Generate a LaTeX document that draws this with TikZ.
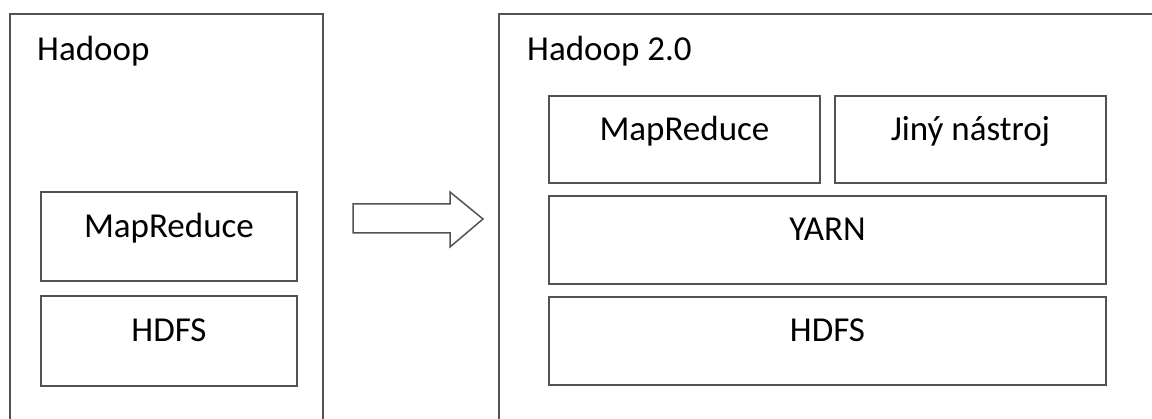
\documentclass[tikz,border=0pt]{standalone}
\usepackage{fontspec}
\setmainfont{Carlito}
\begin{document}
\begin{tikzpicture}[x=1pt,y=-1pt,
  box/.style={draw=black!68, line width=1.9pt, rectangle, inner sep=0pt, anchor=north west},
  lbl/.style={font=\fontsize{35}{42}\selectfont, anchor=base, inner sep=0pt},
  frame/.style={draw=black!68, line width=1.9pt},
  blockarrow/.style={draw=black!68, line width=1.5pt, fill=white, line join=miter}]
\useasboundingbox (0,0) rectangle (1152,419);
\clip (0,0) rectangle (1152,419);
% outer frames
\draw[frame] (10,440) -- (10,14) -- (323,14) -- (323,440);
\draw[frame] (499,440) -- (499,14) -- (1170,14);
\node[lbl, anchor=base west] (t1) at (37,61) {Hadoop};
\node[lbl, anchor=base west] (t2) at (527,61) {Hadoop 2.0};
% left stack
\node[box, minimum width=256pt, minimum height=89pt] (mr1) at (40,191) {};
\node[lbl] (mr1t) at ([yshift=-47pt]mr1.north) {MapReduce};
\node[box, minimum width=256pt, minimum height=90pt] (hd1) at (40,295) {};
\node[lbl] (hd1t) at ([yshift=-47pt]hd1.north) {HDFS};
% arrow
\draw[blockarrow] (353,204) -- (450,204) -- (450,192) -- (483,219) -- (450,247) -- (450,233) -- (353,233) -- cycle;
% right stack
\node[box, minimum width=271pt, minimum height=87pt] (mr2) at (548,95) {};
\node[lbl] (mr2t) at ([yshift=-46pt]mr2.north) {MapReduce};
\node[box, minimum width=271pt, minimum height=87pt] (jn) at (834,95) {};
\node[lbl] (jnt) at ([yshift=-46pt]jn.north) {Jiný nástroj};
\node[box, minimum width=557pt, minimum height=88pt] (yarn) at (548,195) {};
\node[lbl] (yarnt) at ([yshift=-46pt]yarn.north) {YARN};
\node[box, minimum width=557pt, minimum height=88pt] (hd2) at (548,296) {};
\node[lbl] (hd2t) at ([yshift=-46pt]hd2.north) {HDFS};
\end{tikzpicture}
\end{document}
